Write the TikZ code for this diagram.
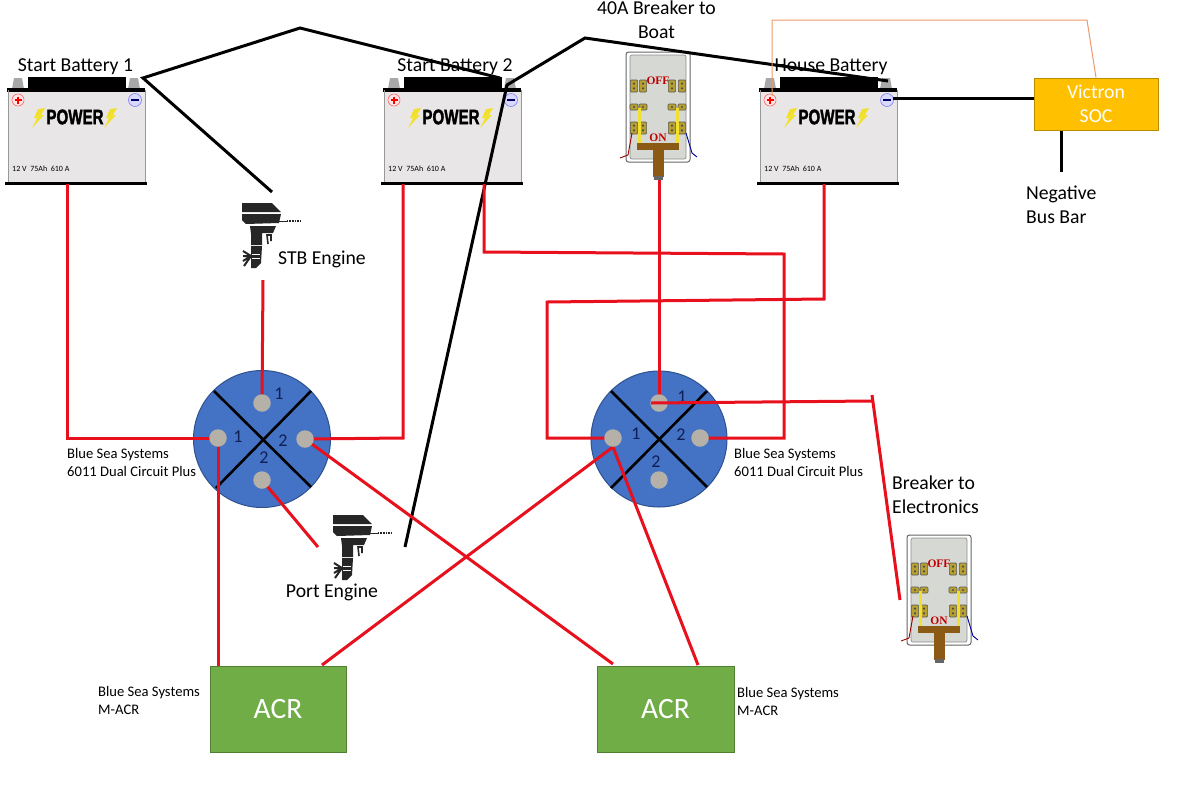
\documentclass[tikz,border=0pt]{standalone}
\usepackage{fontspec}
\setmainfont{Carlito}
\newfontfamily\impactish{Liberation Sans}[BoldFeatures={FakeBold=2}]
\newfontfamily\switchfont{Liberation Serif}
\definecolor{batbody}{HTML}{E8E6E6}
\definecolor{termgrey}{HTML}{A8A8A8}
\definecolor{dialblue}{HTML}{4472C4}
\definecolor{dialedge}{HTML}{2F528F}
\definecolor{dialtext}{HTML}{0F1F55}
\definecolor{studgrey}{HTML}{B5B1A8}
\definecolor{acrgreen}{HTML}{70AD47}
\definecolor{acredge}{HTML}{507E32}
\definecolor{socyellow}{HTML}{FFC000}
\definecolor{socedge}{HTML}{BC8C00}
\definecolor{wirered}{HTML}{E8101C}
\definecolor{wireorange}{HTML}{ED9A6A}
\definecolor{handlebrown}{HTML}{8B5A14}
\definecolor{brkgrey}{HTML}{D6D8D4}
\definecolor{contact}{HTML}{B8A030}
\definecolor{boltyellow}{HTML}{F2E030}
\definecolor{enginedark}{HTML}{262626}
\pgfdeclarelayer{bg}
\pgfdeclarelayer{wires}
\pgfsetlayers{bg,wires,main}
\tikzset{
  redwire/.style={draw=wirered,line width=3pt},
  blackwire/.style={draw=black,line width=3pt},
  label/.style={font=\fontsize{19.7}{24}\selectfont,align=center,inner sep=0pt},
  smalllabel/.style={font=\fontsize{14.6}{18}\selectfont,align=left,anchor=north west,inner sep=0pt},
  dialnum/.style={font=\fontsize{18}{20}\selectfont,text=dialtext,inner sep=0pt},
  stud/.style={circle,fill=studgrey,minimum size=17.5pt,inner sep=0pt},
  acrbox/.style={draw=acredge,fill=acrgreen,line width=1pt,minimum width=136pt,minimum height=86pt,text=white,font=\fontsize{29.5}{32}\selectfont,inner sep=0pt},
  batterypic/.pic={
    \fill[termgrey] (12,-1)--(14,-12)--(22,-12)--(24,-1)--cycle;
    \fill[termgrey] (128,-1)--(130,-12)--(138,-12)--(140,-1)--cycle;
    \fill[black] (28,-13) rectangle (126,1);
    \fill[batbody] (8,0) rectangle (145,93);
    \fill[black] (7,-2) rectangle (145,2);
    \fill[black] (5,92) rectangle (147,95);
    \draw[black!40,line width=.6pt] (8,0)--(8,92) (145,0)--(145,92);
    \draw[red!60,line width=.6pt,fill=white!90!red] (18,10) circle (6);
    \draw[red,line width=1.2pt] (14.5,10)--(21.5,10) (18,6.5)--(18,13.5);
    \draw[blue!50,line width=.6pt,fill=white!85!blue] (135,10) circle (6.5);
    \draw[blue!40!black,line width=1.8pt] (131,10)--(139,10);
    \node[font=\bfseries\fontsize{21}{21}\selectfont,inner sep=0pt] at (75,27) {\scalebox{.72}[1]{\impactish\bfseries POWER}};
    \fill[boltyellow] (38,19)--(45,18)--(41,25)--(44,25)--(32,38)--(37,28)--(34,28)--cycle;
    \fill[boltyellow] (110,19)--(117,18)--(113,25)--(116,25)--(104,38)--(109,28)--(106,28)--cycle;
    \node[font=\fontsize{8}{8}\selectfont,anchor=west,inner sep=0pt] at (12,79) {12 V\ \ 75Ah\ \ 610 A};
  },
  breakerpic/.pic={
    \draw[black!60,fill=white,line width=1pt,rounded corners=2.5pt] (0,0) rectangle (64,110);
    \draw[black!45,fill=brkgrey,line width=.7pt,rounded corners=2pt] (4,3) rectangle (60,107);
    \foreach \cx in {8,17,46,56}{
      \foreach \cy/\ch in {34/12,76/12}{
        \draw[black!65,fill=contact,line width=.6pt,rounded corners=1pt] (\cx-3.6,\cy-\ch/2) rectangle (\cx+3.6,\cy+\ch/2);
        \fill[black!70] (\cx,\cy-2.4) circle (1.2);
        \fill[black!70] (\cx,\cy+2.4) circle (1.2);
      }
      \draw[black!65,fill=contact,line width=.6pt,rounded corners=1pt] (\cx-4,52) rectangle (\cx+4,58);
      \fill[black!70] (\cx,55) circle (1.2);
    }
    \fill[boltyellow] (11.5,56) rectangle (14.5,92);
    \fill[boltyellow] (49.5,56) rectangle (52.5,92);
    \draw[red!60!black,line width=.9pt] (6,81)--(2,103)--(-6,106);
    \draw[blue!60!black,line width=.9pt] (60,81)--(66,101)--(71,105);
    \fill[handlebrown] (11,91) rectangle (53,98);
    \fill[handlebrown] (27,98) rectangle (38,125);
    \fill[black!60] (28,124) rectangle (37,128);
    \node[font=\bfseries\fontsize{11.5}{11}\selectfont,text=red!75!black,inner sep=0pt] at (32,29) {\switchfont\bfseries OFF};
    \node[font=\bfseries\fontsize{11.5}{11}\selectfont,text=red!75!black,inner sep=0pt] at (32,86) {\switchfont\bfseries ON};
  },
  enginepic/.pic={
    \fill[enginedark] (1,0)--(31,0)--(40,9)--(1,9)--cycle;
    \fill[enginedark] (1,11)--(40,11)--(38,20)--(5,21)--(1,17)--cycle;
    \fill[enginedark] (9,23)--(35,23)--(32,30)--(21,30)--(21,42)--(10,42)--(10,31)--cycle;
    \draw[enginedark,line width=1.6pt] (27,41)--(26,32)--(30,32)--(30,38);
    \fill[enginedark] (10,43)--(21,43)--(20,60)--(15,65)--(10,65)--cycle;
    \draw[enginedark,line width=2pt] (2,48)--(10,53)--(2,53) (2,58)--(10,53) (3,63)--(10,53);
    \draw[white,line width=.8pt] (11,51)--(19,51) (11,55)--(19,55);
    \draw[enginedark,line width=.8pt] (38,18)--(46,18);
    \draw[enginedark,line width=1.8pt,dash pattern=on 1pt off .6pt] (46,18)--(59,18);
  }
}
\begin{document}
\begin{tikzpicture}[x=1pt,y=-1pt]
\useasboundingbox (0,0) rectangle (1200,796);
\begin{pgfonlayer}{bg}
\fill[white] (0,0) rectangle (1200,796);
\pic (bat1) at (0,90) {batterypic};
\pic (bat2) at (376,90) {batterypic};
\pic (bat3) at (752,90) {batterypic};
\pic (brk1) at (626,52) {breakerpic};
\pic (brk2) at (907,535) {breakerpic};
\pic (eng1) at (241,203) {enginepic};
\pic (eng2) at (332,515) {enginepic};
\node[circle,draw=dialedge,fill=dialblue,line width=1pt,minimum size=137pt,inner sep=0pt] (dialL) at (262,439) {};
\node[circle,draw=dialedge,fill=dialblue,line width=1pt,minimum size=136pt,inner sep=0pt] (dialR) at (659,439) {};
\draw[black,line width=2.6pt] (214,391)--(311,487) (216,488)--(311,391);
\draw[black,line width=2.6pt] (611,391)--(707,487) (611,488)--(707,391);
\end{pgfonlayer}
% studs
\node[stud] (L1) at (262,403) {};
\node[stud] (L2) at (218,438) {};
\node[stud] (L3) at (305,439) {};
\node[stud] (L4) at (262,480) {};
\node[stud] (R1) at (659,403) {};
\node[stud] (R2) at (613,438) {};
\node[stud] (R3) at (700,438) {};
\node[stud] (R4) at (659,480) {};
\node[dialnum] (n1) at (279,394) {1};
\node[dialnum] (n2) at (238,437) {1};
\node[dialnum] (n3) at (283,441) {2};
\node[dialnum] (n4) at (264,458) {2};
\node[dialnum] (n5) at (682,397) {1};
\node[dialnum] (n6) at (636,434) {1};
\node[dialnum] (n7) at (681,435) {2};
\node[dialnum] (n8) at (656,462) {2};
% boxes
\node[acrbox] (acrL) at (278,709) {ACR};
\node[acrbox,minimum width=137pt] (acrR) at (665.5,709) {ACR};
\node[draw=socedge,fill=socyellow,line width=1pt,minimum width=124pt,minimum height=52pt,text=white,align=center,font=\fontsize{19.7}{24}\selectfont,inner sep=0pt] (soc) at (1096,104) {Victron\\SOC};
% named wire points
\coordinate (b1neg) at (143,78);
\coordinate (stbblack) at (272,192);
\coordinate (topA) at (300,28);
\coordinate (b2neg) at (500,78);
\coordinate (b2negb) at (507,85);
\coordinate (portblack) at (405,547);
\coordinate (topB) at (585,38);
\coordinate (b3neg) at (888,81);
\coordinate (b3pos) at (772,96);
\coordinate (orA) at (772,20);
\coordinate (orB) at (1087,20);
\coordinate (b3out) at (893,98);
\coordinate (socin) at (1034,98);
\coordinate (socbus) at (1061,172);
\coordinate (b1red) at (67,184);
\coordinate (b1c) at (67,438);
\coordinate (b2red) at (403,184);
\coordinate (b2c) at (403,438);
\coordinate (b2x) at (484,184);
\coordinate (b2y) at (484,252);
\coordinate (b2z) at (784,254);
\coordinate (b2w) at (784,438);
\coordinate (b3red) at (824,184);
\coordinate (b3y) at (824,299);
\coordinate (b3z) at (547,302);
\coordinate (b3w) at (547,438);
\coordinate (stbred) at (263,280);
\coordinate (portred) at (318,547);
\coordinate (brk1red) at (659,180);
\coordinate (junc) at (872,401);
\coordinate (junctop) at (872,395);
\coordinate (brk2red) at (900,600);
\coordinate (R1left) at (651,403);
\begin{pgfonlayer}{wires}
\draw[blackwire] (stbblack)--(b1neg)--(topA)--(b2neg);
\draw[blackwire] (portblack)--(b2negb)--(topB)--(b3neg);
\draw[blackwire] (b3out)--(socin);
\draw[blackwire] (socbus |- soc.south)--(socbus);
\draw[draw=wireorange,line width=1pt] (b3pos)--(orA)--(orB)--(soc.north);
\draw[redwire] (b1red)--(b1c)--(L2.center)--(L2.center |- acrL.north);
\draw[redwire] (b2red)--(b2c)--(L3.center)--(613,664);
\draw[redwire] (b2x)--(b2y)--(b2z)--(b2w)--(R3.center);
\draw[redwire] (b3red)--(b3y)--(b3z)--(b3w)--(R2.center);
\draw[redwire] (R2.south)--(322,665);
\draw[redwire] (R2.south)--(698,665);
\draw[redwire] (stbred)--(L1.center);
\draw[redwire] (L4.center)--(portred);
\draw[redwire] (brk1red)--(R1.center);
\draw[redwire] (junctop)--(brk2red);
\end{pgfonlayer}
\draw[redwire] (R1left)--(junc);
% labels
\node[label] (t1) at (75.5,67) {Start Battery 1};
\node[label] (t2) at (455,67) {Start Battery 2};
\node[label] (t3) at (831,67) {House Battery};
\node[label] (t4) at (656.5,20) {40A Breaker to\\Boat};
\node[label,anchor=west] (t5) at (278,259) {STB Engine};
\node[label] (t6) at (332,592) {Port Engine};
\node[label,align=left,anchor=north west] (t7) at (1026,186) {Negative\\Bus Bar};
\node[label,align=left,anchor=north west] (t8) at (892,476) {Breaker to\\Electronics};
\node[smalllabel] (t9) at (67,448) {Blue Sea Systems\\6011 Dual Circuit Plus};
\node[smalllabel] (t10) at (734,448) {Blue Sea Systems\\6011 Dual Circuit Plus};
\node[smalllabel] (t11) at (98,686) {Blue Sea Systems\\M-ACR};
\node[smalllabel] (t12) at (737,687) {Blue Sea Systems\\M-ACR};
\end{tikzpicture}
\end{document}
